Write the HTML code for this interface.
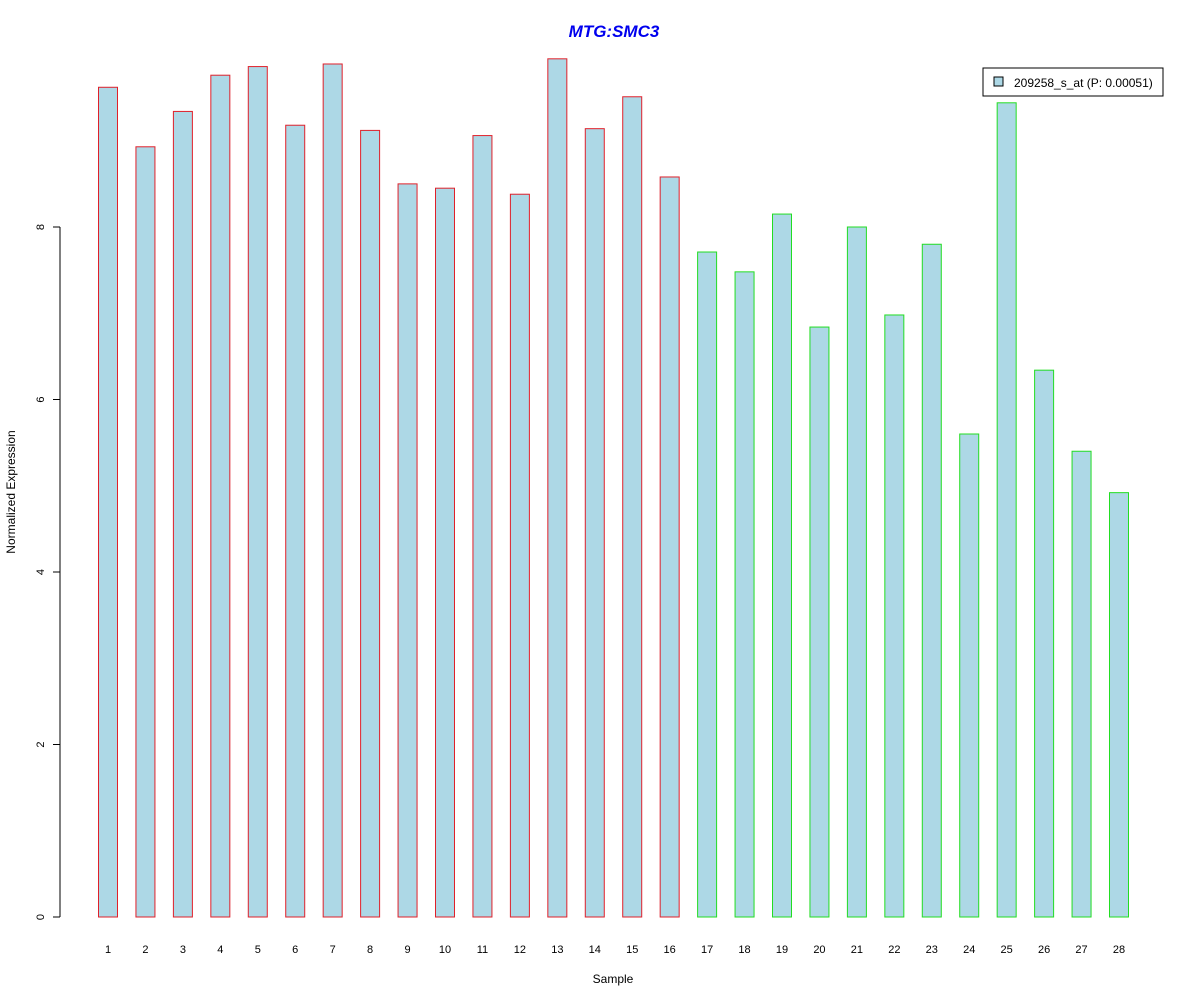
<!DOCTYPE html>
<html><head><meta charset="utf-8"><style>
body{margin:0;background:#fff;}
svg{display:block;font-family:"Liberation Sans",Arial,sans-serif;}
</style></head><body>
<svg id="chart" width="1200" height="1000" viewBox="0 0 1200 1000">
<rect width="1200" height="1000" fill="#fff"/>
<text x="614" y="37" text-anchor="middle" font-size="17" font-weight="bold" font-style="italic" fill="#0000ee">MTG:SMC3</text>
<text x="613" y="983" text-anchor="middle" font-size="12">Sample</text>
<text transform="translate(15,492) rotate(-90)" text-anchor="middle" font-size="12">Normalized Expression</text>
<g id="yaxis"></g>
<g id="bars"></g>
<g id="xlabels"></g>
<g>
<rect x="983" y="68" width="180" height="28" fill="#fff" stroke="#000"/>
<rect x="994" y="77" width="9" height="9" fill="#add8e6" stroke="#000"/>
<text x="1014" y="87" font-size="12">209258_s_at (P: 0.00051)</text>
</g>
</svg>
<script>
const categories = ["1","2","3","4","5","6","7","8","9","10","11","12","13","14","15","16","17","18","19","20","21","22","23","24","25","26","27","28"];
const values = [9.62,8.93,9.34,9.76,9.86,9.18,9.89,9.12,8.50,8.45,9.06,8.38,9.95,9.14,9.51,8.58,7.71,7.48,8.15,6.84,8.00,6.98,7.80,5.60,9.44,6.34,5.40,4.92];
const groups = ["a","a","a","a","a","a","a","a","a","a","a","a","a","a","a","a","b","b","b","b","b","b","b","b","b","b","b","b"];
const yTicks = [0,2,4,6,8];
const NS="http://www.w3.org/2000/svg";
const y0=917, pxPerUnit=86.25;
function yScale(v){return y0 - v*pxPerUnit;}
function xScale(i){return 108 + i*(1119-108)/27;}
function mk(tag,attrs,parent){const e=document.createElementNS(NS,tag);for(const k in attrs)e.setAttribute(k,attrs[k]);parent.appendChild(e);return e;}
const ya=document.getElementById('yaxis');
const al=mk('line',{x1:60,x2:60,y1:yScale(yTicks[0]),y2:yScale(yTicks[yTicks.length-1]),stroke:'#000'},ya);


yTicks.forEach(t=>{
  const y=yScale(t);
  const tl=mk('line',{x1:53,x2:60,y1:y,y2:y,stroke:'#000'},ya);
  
  
  const tx=mk('text',{transform:`translate(44,${y}) rotate(-90)`,'text-anchor':'middle','font-size':11},ya);
  tx.textContent=t;
  
  
});
const bg=document.getElementById('bars'), xl=document.getElementById('xlabels');
values.forEach((v,i)=>{
  const cx=xScale(i), top=yScale(v);
  const r=mk('rect',{x:cx-9.5,y:top,width:19,height:y0-top,fill:'#add8e6',stroke:groups[i]==='a'?'#e0202a':'#22dd22'},bg);
  
  
  const t=mk('text',{x:cx,y:953,'text-anchor':'middle','font-size':11},xl);
  t.textContent=categories[i];
  
  
});
</script>
</body></html>
